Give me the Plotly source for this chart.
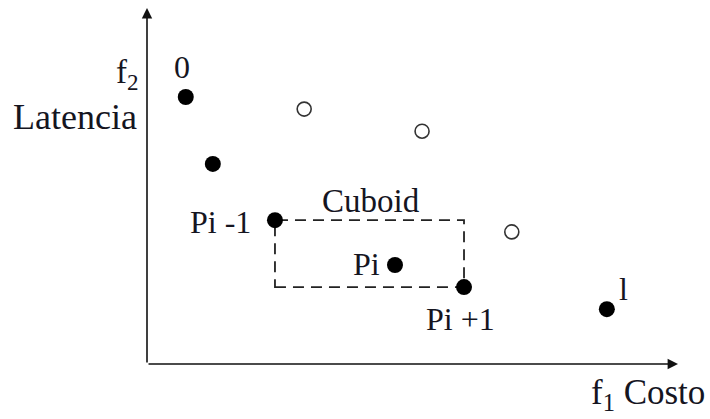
import plotly.graph_objects as go

# ---- data (f1 = Costo, f2 = Latencia) ----
front_x = [0.73, 1.24, 2.41, 4.67, 5.97, 8.66]
front_y = [7.50, 5.62, 4.04, 2.78, 2.16, 1.54]

dominated_x = [2.96, 5.18, 6.87]
dominated_y = [7.16, 6.54, 3.71]

axis_max_x = 10.0
axis_max_y = 10.0

FONT = "Liberation Serif, Times New Roman, serif"
TXT = "#15151f"

fig = go.Figure()

# cuboid around Pi, spanned by Pi-1 and Pi+1
fig.add_shape(type="rect", xref="x", yref="y",
              x0=front_x[2], x1=front_x[4], y0=front_y[4], y1=front_y[2],
              line=dict(color="#222", width=1.8, dash="11px,7px"),
              fillcolor="rgba(0,0,0,0)", layer="below")

# axes lines with arrows
fig.add_annotation(x=0, y=axis_max_y, ax=0, ay=0, xref="x", yref="y",
                   axref="x", ayref="y", text="", showarrow=True,
                   arrowhead=2, arrowsize=1.3, arrowwidth=1.6, arrowcolor="#111")
fig.add_annotation(x=axis_max_x, y=0, ax=0, ay=0, xref="x", yref="y",
                   axref="x", ayref="y", text="", showarrow=True,
                   arrowhead=2, arrowsize=1.3, arrowwidth=1.6, arrowcolor="#111")

fig.add_trace(go.Scatter(x=dominated_x, y=dominated_y, mode="markers",
                         marker=dict(size=14, color="white",
                                     line=dict(color="#333", width=1.6)),
                         hoverinfo="skip", showlegend=False))
fig.add_trace(go.Scatter(x=front_x, y=front_y, mode="markers",
                         marker=dict(size=16, color="black"),
                         hoverinfo="skip", showlegend=False))

def label(x, y, text, xshift=0, yshift=0, size=32, xanchor="center"):
    fig.add_annotation(x=x, y=y, xref="x", yref="y", text=text, showarrow=False,
                       xshift=xshift, yshift=yshift, xanchor=xanchor,
                       yanchor="middle",
                       font=dict(family=FONT, size=size, color=TXT))

# point labels
label(front_x[0], front_y[0], "0", xshift=-4, yshift=30)
label(front_x[2], front_y[2], "Pi -1", xshift=-22, yshift=-2, xanchor="right")
label(front_x[3], front_y[3], "Pi", xshift=-13, yshift=1, xanchor="right")
label(front_x[4], front_y[4], "Pi +1", xshift=-4, yshift=-32)
label(front_x[5], front_y[5], "l", xshift=17, yshift=20)
label((front_x[2] + front_x[4]) / 2, front_y[2], "Cuboid", xshift=2, yshift=19, size=33)

# axis titles
label(0, axis_max_y, "f<sub>2</sub>", xshift=-20, yshift=-66, size=33)
label(0, axis_max_y, "Latencia", xshift=-8, yshift=-109, size=36, xanchor="right")
label(axis_max_x, 0, "f<sub>1</sub> Costo", xshift=-30, yshift=-30, size=35)

fig.update_layout(
    width=710, height=419,
    margin=dict(l=0, r=0, t=0, b=0),
    paper_bgcolor="white", plot_bgcolor="white",
    xaxis=dict(range=[-147 / 53.1, (710 - 147) / 53.1], visible=False, fixedrange=True),
    yaxis=dict(range=[(364 - 419) / 35.6, 364 / 35.6], visible=False, fixedrange=True),
    showlegend=False,
)

fig.write_html("out.html", config={"displayModeBar": False},
               post_script="document.body.style.margin='0';document.body.style.overflow='hidden';")
